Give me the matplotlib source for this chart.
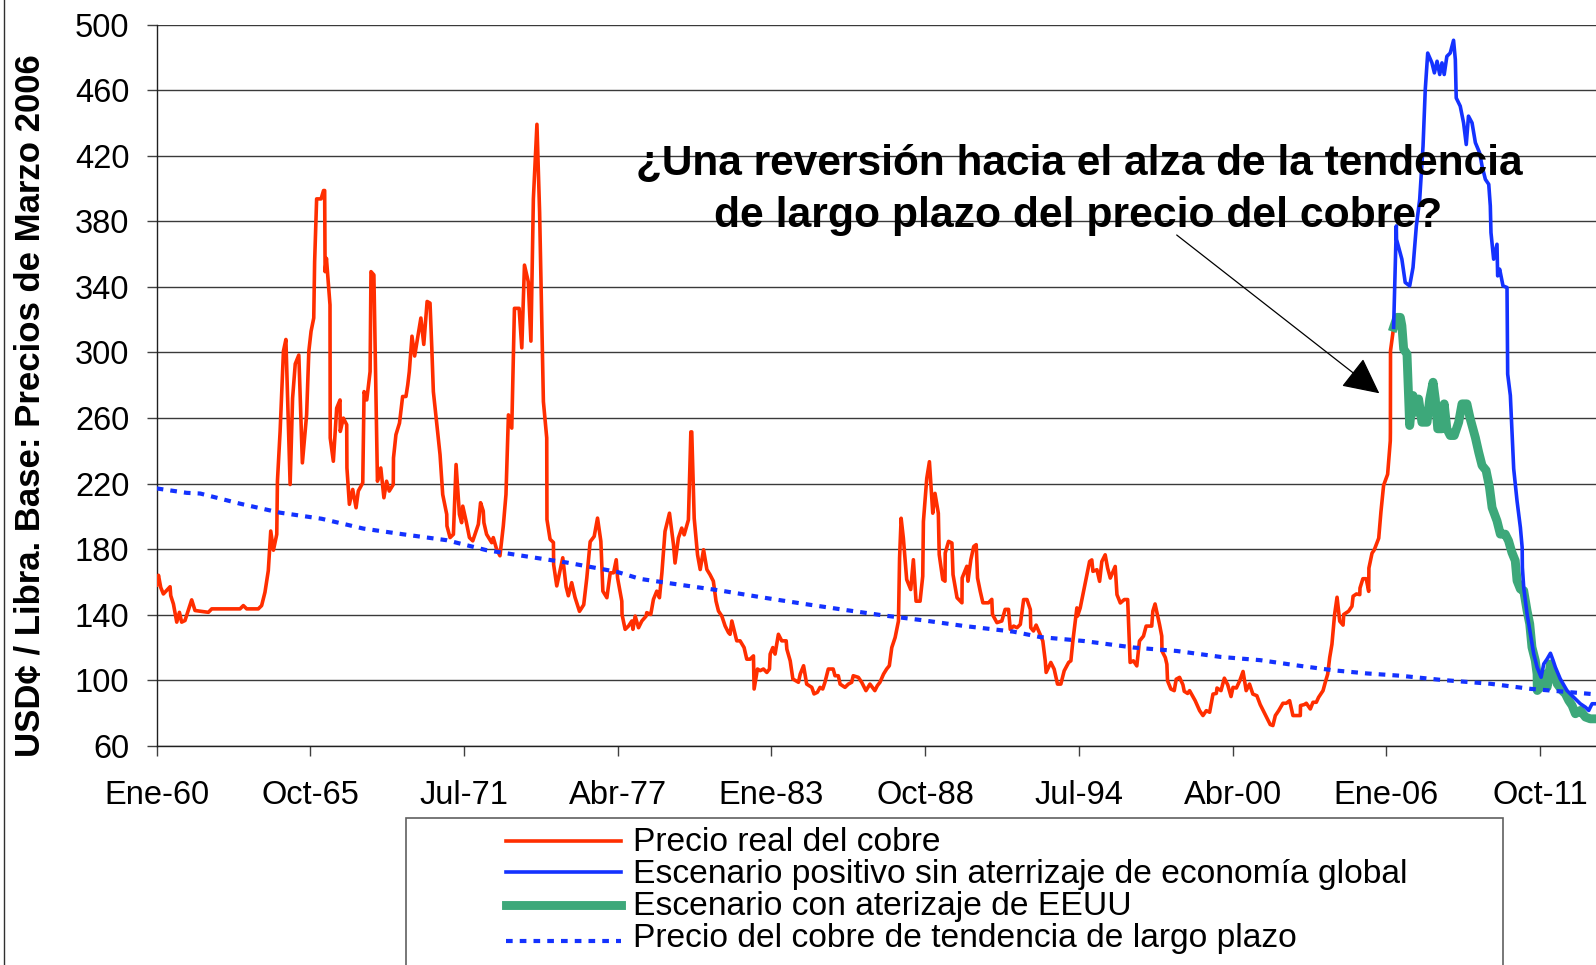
import matplotlib
matplotlib.use("Agg")
import matplotlib.pyplot as plt
from matplotlib.lines import Line2D
from matplotlib.patches import Rectangle

# ---------------- data (x = months since Jan-1960) ----------------
tick_labels = ["Ene-60", "Oct-65", "Jul-71", "Abr-77", "Ene-83",
               "Oct-88", "Jul-94", "Abr-00", "Ene-06", "Oct-11"]
tick_months = [0, 69, 138, 207, 276, 345, 414, 483, 552, 621]

real_month = [0, 0.8, 1.8, 3, 6, 6.3, 7.5, 9, 10.2, 11.2, 12.7, 15.7, 17.2, 23.2, 24.7, 37.4, 38.9,
    40.4, 45.6, 47.1, 48.6, 50.1, 51.2, 52.4, 53.9, 54.2, 55.4, 56.9, 58, 59.9, 61, 62.2, 63.8,
    65.4, 67.3, 68.3, 69.3, 70.5, 70.9, 71.8, 73.8, 74.9, 75.4, 75.6, 76.2, 77.8, 77.9, 79.3,
    80.8, 82.3, 82.4, 83.8, 85.3, 85.4, 86.5, 88, 89.5, 90.5, 92.5, 93.1, 94.3, 95.8, 96.2,
    97.5, 99.1, 100.6, 102, 103.2, 104.4, 106.2, 106.3, 107.4, 109, 110.4, 111.9, 112.7,
    113.4, 114.6, 115.8, 118.6, 119.9, 121.4, 122.7, 123.5, 124.2, 127.2, 128.4, 130.2,
    130.3, 131.7, 133.2, 134.4, 135.9, 136.9, 137.4, 138.9, 140.4, 141.9, 144.4, 145.4,
    146.6, 146.9, 148.1, 150.4, 151.1, 152.6, 154.1, 155.6, 156.8, 157.9, 159.4, 160.6,
    162.7, 163.9, 165.1, 166.8, 168, 169.1, 170.7, 171.9, 173.1, 173.6, 175.1, 175.2,
    176.6, 178.1, 178.2, 179.6, 182.3, 183.8, 184.8, 186.3, 187.8, 189.8, 191.7, 193.1,
    194.6, 196.4, 197.9, 199.4, 200.3, 202.1, 203.6, 205.1, 206.3, 206.9, 208.8, 208.9,
    210.3, 211.8, 213.3, 213.8, 214.8, 216.3, 217.8, 219.7, 220, 221.8, 223, 224.5, 225.7,
    226.8, 228.2, 230.2, 232, 232.7, 234.2, 235.7, 236.8, 238.7, 239.8, 240.2, 241.3,
    242.8, 244, 245.5, 247, 248.4, 249.9, 251.1, 252.2, 253.7, 255.2, 256.7, 257.4, 258.2,
    259.7, 260.4, 261.9, 263.7, 264.9, 266.4, 267.9, 268.2, 269.7, 270.9, 272.4, 273.9,
    275.1, 275.4, 276.6, 277.6, 279.1, 280.6, 282.6, 282.9, 284.4, 285.6, 288.1, 288.9,
    290.4, 291.8, 294.1, 295.1, 296.6, 297.8, 299, 300, 301.5, 303.7, 304.5, 306, 306.8,
    309, 310.5, 312, 312.7, 315, 316.5, 318.4, 320.2, 322.4, 323.5, 324.7, 326.3, 327.7,
    328.9, 330, 331.5, 333, 333.5, 334.2, 335.2, 336.7, 338.5, 339.7, 340.9, 342.7, 343.9,
    344.2, 345.7, 346.9, 348.4, 349.4, 350.9, 351.3, 352.9, 353.9, 354, 355.5, 357, 357.5,
    359.3, 361.5, 361.6, 363.7, 364.2, 365.5, 366.8, 367.9, 368.5, 369.7, 370.9, 373.4,
    374.9, 375.2, 377.2, 379.4, 380.9, 382.4, 383.2, 384.7, 386.2, 387.7, 389.2, 390.7,
    392.2, 392.4, 393.6, 394.8, 396.6, 397.8, 398.9, 399.3, 401.4, 402.9, 404.4, 405.9,
    407.4, 409.4, 410.4, 411.3, 413.1, 413.4, 414.6, 415.8, 417.3, 418.8, 419.8, 420.3,
    422.1, 423.3, 424.3, 425.8, 426.9, 428.1, 430.3, 431.1, 432.6, 434.4, 435.9, 437,
    438.5, 440, 441.2, 443, 444.2, 446.7, 447.2, 448.2, 450.2, 451.2, 451.3, 452.8, 453.5,
    453.8, 455.3, 456.8, 457.7, 459.2, 460.7, 461.3, 462.8, 463.7, 466.2, 468.2, 469.7,
    471.2, 472.7, 474.2, 475.7, 476, 477.8, 479.3, 480.8, 482.3, 483.2, 484.7, 486.2,
    487.7, 489.1, 490.6, 492.1, 493.9, 495.4, 496.9, 498.4, 499.9, 501.1, 502.2, 503.7,
    505.6, 507.1, 508.6, 510.1, 513.4, 513.5, 515.2, 516.1, 517.9, 519.1, 520.6, 521.6,
    523.6, 524.6, 525.7, 526.6, 527.6, 528.8, 529.9, 531.1, 532.6, 532.9, 535.1, 536.6,
    537.1, 538.6, 540.1, 540.2, 541.5, 543, 544.1, 544.2, 545.6, 546.6, 548.6, 549.6,
    550.8, 552.6, 553.8, 553.85, 553.9, 555.3]
real_value = [158, 164, 156.6, 152.6, 157, 151.6, 146.5, 135.4, 141.4, 135.4, 136.4, 149, 142.5,
    141.4, 143.5, 143.5, 145.5, 143.5, 143.5, 145.5, 153.6, 166.8, 191, 179.3, 189, 221.4,
    251.8, 300.8, 307.9, 219.4, 272, 293, 298.4, 232.6, 261.9, 300.8, 312.9, 321, 355.3,
    393.7, 393.7, 398.8, 398.8, 349.3, 357.4, 329, 247.8, 233.6, 266, 271, 251.8, 259.9,
    255.9, 229.5, 207.3, 216.4, 205.2, 215.4, 220.4, 276.1, 271, 288.3, 349.3, 347.3,
    221.4, 229.5, 211.3, 221.4, 215.4, 219.4, 235.6, 249.8, 256.9, 273.1, 273.1, 280.2,
    288.3, 309.9, 297.8, 321, 304.9, 331.1, 330.1, 302.8, 276.1, 237.6, 213.3, 201.2,
    194.1, 187, 189, 231.6, 201.2, 196.1, 206.2, 197.1, 187, 185, 195.1, 208.3, 203.2,
    196.1, 189, 183.9, 187, 179.9, 175.9, 194.1, 213.3, 261.9, 253.8, 326.9, 326.9, 302.8,
    353.3, 343.2, 306.9, 393.7, 439.2, 385.6, 302.8, 270, 247.8, 198, 186, 184, 170.5,
    157.5, 174.7, 157, 151.5, 159.5, 150.5, 142, 146, 162.5, 184.5, 187.7, 198.9, 184.7,
    154.3, 150.3, 165.5, 165.5, 173.5, 162.4, 148.2, 140.1, 131, 133, 136.1, 131, 139.1,
    132, 136.1, 139.1, 141.2, 140.1, 149.3, 154.3, 150.3, 165.5, 190.8, 201.9, 182.7,
    171.5, 186.7, 192.8, 188.7, 197.8, 251.5, 251.5, 198.8, 176.5, 167.5, 179.6, 167.5,
    164.4, 160.4, 148.2, 142.2, 139.1, 133, 129, 128, 136.1, 128, 124, 124, 119.9, 112.8,
    112.8, 114.8, 94.6, 106.8, 105.8, 106.8, 104.7, 106.8, 115.9, 119.9, 115.9, 128, 124,
    124, 118.9, 111.8, 100.7, 98.7, 103.7, 108.8, 97.6, 95.6, 91.6, 92.6, 95.6, 94.6, 98.7,
    106.8, 106.8, 102.7, 102.7, 97.6, 95.6, 97.6, 98.7, 102.7, 101.7, 98.7, 93.6, 97.6,
    93.6, 96.6, 98.7, 103.7, 106.8, 108.8, 119.9, 126, 136.1, 174.5, 198.8, 186.7, 161.4,
    155.3, 173.5, 148.2, 148.2, 163.4, 196.8, 223.1, 233.3, 201.9, 214, 201.9, 176.6,
    161.4, 160.4, 177.6, 184.7, 183.7, 164.4, 150.3, 147.2, 162.4, 169.5, 160.4, 173.5,
    181.6, 182.7, 162.4, 154.3, 147.2, 147.2, 149.3, 140.1, 135.1, 136.1, 143.2, 143.2,
    131, 133, 132, 134, 149.2, 149.2, 143.1, 132, 130, 133.6, 127.9, 123.9, 111.8, 104.7,
    110.8, 106.7, 97.6, 97.6, 105.7, 110.8, 111.8, 123.9, 144.1, 139.1, 144.1, 152.2,
    162.3, 172.4, 173.4, 166.4, 167.4, 160.3, 172.4, 176.5, 168.4, 162.3, 169.4, 152.2,
    147.1, 149.2, 149.2, 110.8, 111.8, 108.7, 123.9, 126.9, 133, 133, 142.1, 146.5, 134,
    126.9, 117.8, 113.8, 109.7, 99.6, 94.6, 93.6, 100.6, 101.7, 97.2, 93.2, 91.9, 93.6,
    87.5, 81.4, 78.4, 81.4, 80.4, 91.5, 91.9, 95.2, 93.6, 101.2, 97.2, 90, 95.6, 95.2,
    99.6, 105.3, 93.6, 97.6, 91.5, 90.5, 85.1, 81, 77, 72.9, 72.3, 78.4, 81.4, 85.9, 85.9,
    87.5, 78.4, 78.4, 84.5, 85.1, 85.9, 82.4, 86.5, 86.5, 89.5, 93.6, 98.6, 103.7, 113.8,
    121.9, 140.1, 150.6, 136, 133.6, 140.1, 142.1, 145.1, 151.2, 152.6, 152.2, 156.2,
    161.9, 161.9, 154.2, 168.4, 177.5, 179.5, 186.6, 202.7, 218.9, 225.6, 246, 251.3,
    301, 315.3]

pos_month = [555.3, 556.5, 556.6, 559, 560.5, 562.5, 564, 565.5, 567, 568.5, 569.5, 570.6, 572.5,
    573.6, 574.8, 576, 577, 578, 579.2, 580.7, 582.2, 583, 583.4, 585.2, 586.7, 587.9, 588.9,
    590.5, 592, 593.9, 595, 596.5, 598, 598.7, 599, 600.2, 601.7, 602, 602.9, 604.4, 606.2,
    606.5, 607.7, 609.2, 610.7, 612.2, 613, 613.1, 613.7, 615.2, 616.7, 618.2, 619.7, 620.9,
    621.5, 622.7, 624.2, 625.7, 626.9, 627.9, 630.1, 633.1, 636.1, 639.1, 641.4, 642.9,
    643.6, 644.4, 646.3]
pos_value = [315.3, 377.2, 369, 356.9, 342.7, 340.6, 351.8, 377.2, 393.4, 425.9, 460.4, 482.7,
    476.7, 470.6, 477.7, 469.6, 476.7, 469.6, 480.7, 482.7, 490.5, 478.7, 455.3, 450.3,
    440.1, 426.9, 444.2, 440.1, 428, 421.8, 413.7, 405.6, 402.6, 389.4, 373.1, 356.9, 366,
    346.7, 350.8, 340.6, 339.6, 286.8, 273.7, 229, 209.4, 193.2, 181, 168.8, 156.6, 140.4,
    128.2, 116, 107.9, 103.8, 101.8, 109.9, 112.9, 116.4, 112, 107.9, 100.8, 93.7, 89.6,
    85.6, 83.5, 81.5, 83.5, 85.6, 85.6]

land_month = [555.3, 556.8, 558.3, 559, 559.8, 561.3, 562.5, 564, 565, 566.5, 568, 570.3, 571.5,
    573, 574, 575.1, 577, 578, 579.2, 580.7, 582.5, 584.5, 586, 588.2, 589.7, 592, 593.5,
    595, 596.8, 598.3, 599.5, 601.7, 603.2, 605.4, 606.9, 608.4, 609.9, 610.7, 612.2,
    613.7, 615.2, 616.4, 617.4, 618.9, 619.7, 619.8, 621.2, 622.7, 624.2, 625.7, 627.2,
    628.7, 630.9, 632.4, 633.9, 635.4, 636.9, 639.1, 641.4, 643.6, 646.3]
land_value = [315.3, 321.4, 321.4, 316.3, 302.1, 299, 255.4, 273.7, 263.5, 271.6, 257.4, 257.4,
    271.6, 281.8, 271.6, 253.4, 253.4, 268.6, 253.4, 249.3, 249.3, 257.4, 268.6, 268.6,
    259.4, 248, 239, 231, 228, 218, 205.3, 197.2, 189.1, 189.1, 185, 177.9, 172.9, 160.7,
    155.6, 154.6, 142.4, 134.3, 120.1, 112, 103.8, 93.7, 95.7, 103.8, 95.7, 109.9, 103.8,
    97.8, 93.7, 91.7, 87.6, 84.6, 79.5, 81.5, 77.5, 76.4, 76.4]

trend_month = [0, 13.5, 19.5, 37.4, 55.4, 74, 92.8, 110.7, 130.2, 148.1, 166.1, 184, 206.6, 217,
    235, 253, 270.9, 290.3, 308.3, 326.3, 344.2, 362.2, 384.6, 396.6, 416.1, 438.6, 458,
    477.5, 495.4, 513.4, 528.4, 543.3, 558.3, 576.3, 598.7, 616.7, 646.3]
trend_value = [217, 214.3, 213.9, 207.7, 202.2, 198.5, 192.5, 189, 185.4, 179.3, 175.5, 171.8,
    166.1, 161.8, 158.2, 154.7, 150.7, 146.6, 143, 139.5, 136.5, 133.1, 129.6, 126.3, 123.9,
    119.9, 117.8, 114.2, 112.2, 108.7, 106, 104.1, 102.7, 100.2, 97.8, 94.7, 91.3]

series_labels = ["Precio real del cobre",
                 "Escenario positivo sin aterrizaje de economía global",
                 "Escenario con aterizaje de EEUU",
                 "Precio del cobre de tendencia de largo plazo"]
ylabel_text = "USD¢ / Libra. Base: Precios de Marzo 2006"
note_lines = ["¿Una reversión hacia el alza de la tendencia",
              "de largo plazo del precio del cobre?"]

# ---------------- styling ----------------
RED = "#FF2E00"
BLUE = "#1432FF"
GREEN = "#3DA87A"
plt.rcParams["font.family"] = ["Liberation Sans", "DejaVu Sans"]

W, H = 1596, 965
fig = plt.figure(figsize=(W / 100, H / 100), dpi=100)


def fx(x):
    return x / W


def fy(y):
    return 1 - y / H


ax = fig.add_axes([fx(156.7), fy(745.7), fx(W - 156.7), (745.7 - 24.7) / H])

ax.plot(real_month, real_value, color=RED, lw=2.6, zorder=3)
ax.plot(land_month, land_value, color=GREEN, lw=6.4, zorder=4)
ax.plot(pos_month, pos_value, color=BLUE, lw=2.6, zorder=5)
ax.plot(trend_month, trend_value, color=BLUE, lw=3.0, dashes=(1.6, 1.7),
        dash_capstyle="butt", zorder=6)

ax.set_xlim(0, (W - 156.7) / 2.2275)
ax.set_ylim(60, 500)
ax.set_yticks(range(60, 501, 40))
ax.set_xticks(tick_months)
ax.set_xticklabels(tick_labels)
ax.tick_params(axis="both", labelsize=23.5, length=7.2, width=1.0, color="#404040",
               direction="out")
ax.tick_params(axis="y", pad=12.5)
ax.tick_params(axis="x", pad=17.5)
ax.grid(axis="y", color="#3a3a3a", lw=1.0, zorder=1)
ax.set_axisbelow(True)
for s in ("top", "right"):
    ax.spines[s].set_visible(False)
for s in ("left", "bottom"):
    ax.spines[s].set_color("#202020")
    ax.spines[s].set_linewidth(1.0)

fig.text(fx(30.5), fy(405.7), ylabel_text, rotation=90, ha="center", va="center",
         fontsize=25, fontweight="bold")

# annotation
fig.text(fx(1079), fy(175), note_lines[0], ha="center", va="baseline",
         fontsize=30.5, fontweight="bold")
fig.text(fx(1078), fy(226.7), note_lines[1], ha="center", va="baseline",
         fontsize=30.8, fontweight="bold")
ax.annotate("", xy=(1379.3, H - 393.3), xytext=(1176.7, H - 235),
            xycoords="figure pixels", textcoords="figure pixels",
            arrowprops=dict(arrowstyle="-|>", mutation_scale=57, lw=0.9,
                            color="black", shrinkA=0, shrinkB=0))

# outer chart border (left edge only visible)
fig.add_artist(Line2D([fx(4), fx(4)], [0, 1], color="#303030", lw=1.0))

# legend box
fig.add_artist(Rectangle((fx(405.7), fy(975)), fx(1503 - 405.7), (975 - 818) / H,
                         facecolor="white", edgecolor="#606060", lw=1.2))
handle_y = [840.7, 871.7, 905, 940.7]
base_y = [851, 882.7, 915, 946.7]
styles = [dict(color=RED, lw=2.6), dict(color=BLUE, lw=2.6),
          dict(color=GREEN, lw=6.4),
          dict(color=BLUE, lw=3.0, dashes=(1.6, 1.7), dash_capstyle="butt")]
for lab, hy, by, st in zip(series_labels, handle_y, base_y, styles):
    fig.add_artist(Line2D([fx(506), fx(621)], [fy(hy), fy(hy)], **st))
    fig.text(fx(633), fy(by), lab, ha="left", va="baseline", fontsize=24.2)

fig.savefig("out.png", dpi=100)
